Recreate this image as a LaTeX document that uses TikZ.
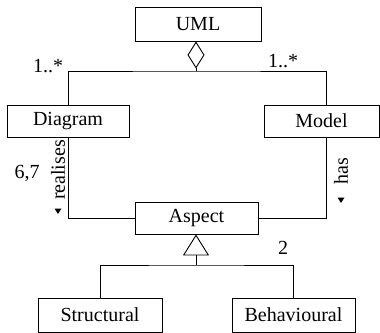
\documentclass[tikz,border=0pt]{standalone}
\usepackage{fontspec}
\setmainfont{Liberation Serif}
\usetikzlibrary{arrows.meta}
\begin{document}
\begin{tikzpicture}[x=1pt,y=-1pt,
  line width=0.9pt,
  every node/.style={font=\fontsize{20}{24}\selectfont, inner sep=0pt},
  cls/.style={draw, minimum height=32pt},
  lbl/.style={},
  aggr/.style={-{Diamond[open,length=27pt,width=17pt,line width=0.9pt]}},
  gen/.style={-{Triangle[open,length=21pt,width=26pt,line width=0.9pt]}}]
\useasboundingbox (0,0) rectangle (380,332);

% classes
\node[cls, minimum width=126pt, minimum height=34pt] (uml) at (198,24) {UML};
\node[cls, minimum width=122pt] (dia) at (68,121) {Diagram};
\node[cls, minimum width=115pt] (mod) at (321.5,121) {Model};
\node[cls, minimum width=123pt] (asp) at (196.5,218) {Aspect};
\node[cls, minimum width=124pt, minimum height=34pt] (str) at (100,315) {Structural};
\node[cls, minimum width=123pt, minimum height=34pt] (beh) at (293.5,315) {Behavioural};

% junction points
\coordinate (j1) at (196,71);
\coordinate (mtop) at (326,105);
\coordinate (mbot) at (326,137);
\coordinate (j2) at (196,265);

% aggregation UML -> Diagram, Model
\draw[aggr] (j1) -- (j1 |- uml.south);
\draw (dia.north) |- (j1) -| (mtop);

% associations to Aspect
\draw (dia.south) |- (asp.west);
\draw (asp.east) -| (mbot);

% generalisation
\draw[gen] (j2) -- (j2 |- asp.south);
\draw (str.north) |- (j2) -| (beh.north);

% labels
\node[lbl] (m1) at (48,66) {1..*};
\node[lbl] (m2) at (283,61) {1..*};
\node[lbl] (n67) at (27,173) {6,7};
\node[lbl, rotate=90] (rel) at (58,170) {realises};
\node[lbl, rotate=90] (has) at (341,171) {has};
\node[lbl] (n2) at (283,248) {2};

% reading-direction markers
\fill (54.5,208.5) -- (61.5,208.5) -- (58,214) -- cycle;
\fill (337.5,197.5) -- (344.5,197.5) -- (341,203) -- cycle;
\end{tikzpicture}
\end{document}
